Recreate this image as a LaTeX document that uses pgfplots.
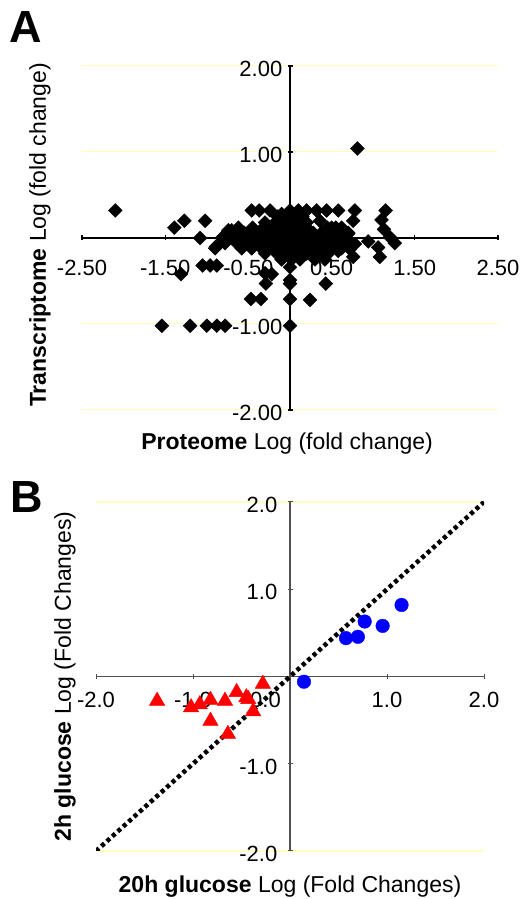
\documentclass[border=0pt]{standalone}
\usepackage{fontspec}
\setmainfont{Liberation Sans}
\usepackage{pgfplots}
\pgfplotsset{compat=1.18}
\definecolor{gridyel}{RGB}{255,255,190}
\definecolor{axgray}{RGB}{80,80,80}

\pgfplotsset{
  panel/.style={
    scale only axis, axis lines=middle, axis line style={-},
    set layers,
    tick label style={font=\fontsize{22bp}{26bp}\selectfont, inner sep=0pt},
    label style={font=\fontsize{23bp}{27bp}\selectfont, inner sep=0pt},
    major tick length=5bp,
    /pgf/number format/assume math mode=true,
    /pgf/number format/fixed,
    /pgf/number format/fixed zerofill,
  },
}

\begin{document}
\begin{tikzpicture}

% ---- panel A
\begin{axis}[panel,
    at={(82bp,489bp)}, anchor=south west,
    width=416bp, height=344bp,
    xmin=-2.5, xmax=2.5, ymin=-2, ymax=2,
    xtick={-2.5,-1.5,-0.5,0.5,1.5,2.5},
    ytick={-2,-1,1,2},
    /pgf/number format/precision=2,
    axis line style={black, line width=1.8bp},
    tick style={black, line width=1.2bp},
    ymajorgrids, grid style={gridyel, line width=1bp},
    xticklabel style={anchor=north, yshift=-19bp},
    yticklabel style={anchor=east, xshift=-5bp, yshift=-2.5bp},
    xlabel={\textbf{Proteome} Log (fold change)},
    ylabel={\textbf{Transcriptome} Log (fold change)},
    xlabel style={at={(axis description cs:0.493,-0.099)}, anchor=center},
    ylabel style={at={(axis description cs:-0.101,0.509)}, anchor=center, rotate=90},
  ]
  \addplot[only marks, mark=square*, mark size=4.9bp,
           mark options={rotate=45, fill=black, draw=black}] coordinates {
    (-2.10,0.32)
    (-1.39,0.12) (-1.27,0.20) (-1.02,0.20) (-1.08,0.00) (-1.31,-0.42)
    (-1.05,-0.32) (-0.96,-0.32) (-0.88,-0.32) (-0.89,-0.10) (-0.78,-0.05) (-0.70,0.09)
    (-1.54,-1.02) (-1.20,-1.02) (-1.00,-1.02) (-0.88,-1.02) (-0.78,-1.02) (0.00,-1.02)
    (-0.47,-0.71) (-0.35,-0.71) (-0.29,-0.53) (-0.22,-0.42) (-0.30,-0.41)
    (0.00,-0.34) (0.00,-0.49) (0.00,-0.53) (0.00,-0.71)
    (0.24,-0.72) (0.43,-0.53)
    (-0.46,0.32) (-0.37,0.32) (-0.24,0.32) (0.00,0.32) (0.10,0.32) (0.20,0.32)
    (0.32,0.32) (0.44,0.32) (0.58,0.32) (0.78,0.32) (1.15,0.32)
    (0.76,0.20) (1.10,0.21) (0.81,1.04)
    (1.13,0.10) (1.20,0.01) (1.26,-0.06) (0.94,-0.04) (1.06,-0.11) (1.08,-0.22)
    (0.76,-0.22) (0.72,-0.13) (0.68,-0.03) (0.60,0.09) (0.50,0.12) (0.36,0.20)
    (0.02,0.20) (-0.10,0.07) (-0.30,0.13) (-0.36,0.05) (-0.46,0.01) (-0.56,-0.07)
    (-0.66,-0.03) (-0.74,0.09) (0.58,-0.15) (0.78,-0.07) (0.70,0.05) (-0.90,-0.12)
    (-0.15,0.25) (-0.05,0.25) (0.05,0.25) (0.15,0.25) (-0.10,0.28) (0.08,0.28)
    (-0.30,0.18) (-0.18,0.18) (-0.08,0.18) (0.00,0.18) (0.10,0.18) (0.20,0.18)
    (-0.62,0.12) (-0.45,0.12) (-0.32,0.12) (-0.20,0.12) (-0.10,0.12) (0.00,0.12)
    (0.10,0.12) (0.20,0.12) (0.45,0.12) (0.55,0.12) (0.62,0.12)
    (-0.75,0.06) (-0.66,0.06) (-0.55,0.06) (-0.42,0.06) (-0.30,0.06) (-0.18,0.06)
    (-0.06,0.06) (0.06,0.06) (0.16,0.06) (0.28,0.06) (0.38,0.06) (0.50,0.06)
    (0.60,0.06) (0.70,0.06)
    (-0.82,0.00) (-0.70,0.00) (-0.60,0.00) (-0.50,0.00) (-0.38,0.00) (-0.26,0.00)
    (-0.14,0.00) (-0.02,0.00) (0.08,0.00) (0.20,0.00) (0.32,0.00) (0.44,0.00)
    (0.56,0.00) (0.66,0.00)
    (-0.78,-0.06) (-0.64,-0.06) (-0.52,-0.06) (-0.40,-0.06) (-0.28,-0.06) (-0.16,-0.06)
    (-0.04,-0.06) (0.06,-0.06) (0.18,-0.06) (0.30,-0.06) (0.42,-0.06) (0.54,-0.06)
    (0.64,-0.06)
    (-0.58,-0.12) (-0.46,-0.12) (-0.34,-0.12) (-0.20,-0.12) (-0.08,-0.12) (0.04,-0.12)
    (0.14,-0.12) (0.26,-0.12) (0.38,-0.12) (0.50,-0.12) (0.62,-0.12)
    (-0.30,-0.18) (-0.16,-0.18) (-0.04,-0.18) (0.08,-0.18) (0.20,-0.18) (0.34,-0.18)
    (0.46,-0.18)
    (-0.10,-0.25) (0.02,-0.25) (0.12,-0.25) (0.30,-0.25) (0.42,-0.25)
  };
\end{axis}

% ---- panel B
\begin{axis}[panel,
    at={(96bp,48bp)}, anchor=south west,
    width=388bp, height=349bp,
    xmin=-2, xmax=2, ymin=-2, ymax=2,
    xtick={-2,-1,1,2},
    ytick={-2,-1,1,2},
    hide obscured x ticks=false,
    /pgf/number format/precision=1,
    axis line style={axgray, line width=1.4bp},
    tick style={axgray, line width=1bp},
    extra x ticks={0},
    extra x tick style={xticklabel style={anchor=north east, xshift=-9bp}},
    extra y ticks={-2,2}, extra y tick labels={},
    extra y tick style={ymajorgrids=true, major tick length=0pt},
    grid style={gridyel, line width=1.2bp},
    xticklabel style={anchor=north, yshift=-13bp},
    yticklabel style={anchor=east, xshift=-10bp, yshift=-3bp},
    xlabel={\textbf{20h glucose} Log (Fold Changes)},
    ylabel={\textbf{2h glucose} Log (Fold Changes)},
    xlabel style={at={(axis description cs:0.5,-0.103)}, anchor=center},
    ylabel style={at={(axis description cs:-0.080,0.5)}, anchor=center, rotate=90},
  ]
  \addplot[black, line width=4.5bp, dash pattern=on 4bp off 3.3bp] coordinates {(-2,-2) (2,2)};
  \addplot[only marks, mark=triangle*, mark size=8.9bp, color=red] coordinates {
    (-1.37,-0.28) (-1.02,-0.355) (-0.93,-0.32) (-0.82,-0.27) (-0.82,-0.51)
    (-0.67,-0.28) (-0.55,-0.18) (-0.45,-0.24) (-0.43,-0.26) (-0.38,-0.40)
    (-0.64,-0.66) (-0.28,-0.085)
  };
  \addplot[only marks, mark=*, mark size=6.8bp, color=blue] coordinates {
    (0.144,-0.06) (0.577,0.44) (0.70,0.455) (0.77,0.63) (0.955,0.58) (1.15,0.82)
  };
\end{axis}

\node[anchor=base west, inner sep=0pt, font=\bfseries\fontsize{45bp}{50bp}\selectfont] at (9bp,856bp) {A};
\node[anchor=base west, inner sep=0pt, font=\bfseries\fontsize{45bp}{50bp}\selectfont] at (10bp,386bp) {B};
\path (0,0) rectangle (520bp,899bp);
\end{tikzpicture}
\end{document}
